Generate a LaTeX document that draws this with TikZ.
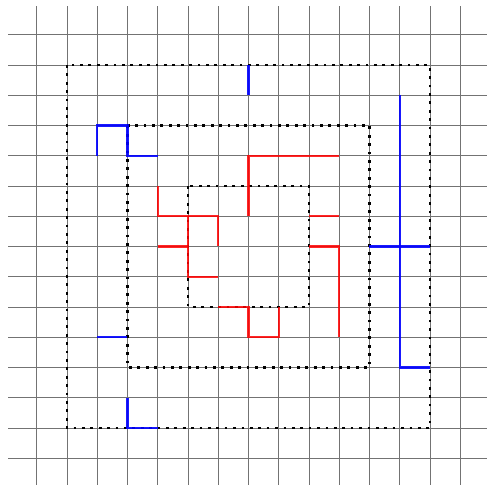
\documentclass[tikz,border=0pt]{standalone}
\begin{document}
\begin{tikzpicture}[x=1cm,y=-1cm,
  gridline/.style={draw=black!55,line width=0.55pt},
  dotsq/.style={draw=black,line width=2.6pt,dash pattern=on 2.6pt off 5.3pt},
  bluepath/.style={draw=blue,line width=1.9pt,opacity=0.9},
  redpath/.style={draw=red,line width=1.9pt,opacity=0.85}]
\useasboundingbox (-0.215,-0.149) rectangle (15.885,15.951);
% grid
\foreach \k in {1,...,15}{
  \draw[gridline] (\k,0.05) -- (\k,15.9);
  \draw[gridline] (0.05,\k) -- (15.9,\k);
}
% dotted squares
\draw[dotsq] (2,2) rectangle (14,14);
\draw[dotsq] (4,4) rectangle (12,12);
\draw[dotsq] (6,6) rectangle (10,10);
% blue paths
\coordinate (b1a) at (8,2); \coordinate (b1b) at (8,3);
\draw[bluepath] (b1a) -- (b1b);
\coordinate (b2a) at (3,5); \coordinate (b2b) at (5,5);
\draw[bluepath] (b2a) -- (3,4) -- (4,4) -- (4,5) -- (b2b);
\coordinate (b3a) at (13,3); \coordinate (b3b) at (14,12);
\draw[bluepath] (b3a) -- (13,12) -- (b3b);
\coordinate (b4a) at (12,8); \coordinate (b4b) at (14,8);
\draw[bluepath] (b4a) -- (b4b);
\coordinate (b5a) at (3,11); \coordinate (b5b) at (4,11);
\draw[bluepath] (b5a) -- (b5b);
\coordinate (b6a) at (4,13); \coordinate (b6b) at (5,14);
\draw[bluepath] (b6a) -- (4,14) -- (b6b);
% red paths
\coordinate (r1a) at (8,7); \coordinate (r1b) at (11,5);
\draw[redpath] (r1a) -- (8,5) -- (r1b);
\coordinate (r2a) at (5,6); \coordinate (r2b) at (7,8);
\draw[redpath] (r2a) -- (5,7) -- (7,7) -- (r2b);
\coordinate (r3a) at (6,7); \coordinate (r3b) at (7,9);
\draw[redpath] (r3a) -- (6,9) -- (r3b);
\coordinate (r4a) at (5,8); \coordinate (r4b) at (6,8);
\draw[redpath] (r4a) -- (r4b);
\coordinate (r5a) at (10,7); \coordinate (r5b) at (11,7);
\draw[redpath] (r5a) -- (r5b);
\coordinate (r6a) at (10,8); \coordinate (r6b) at (11,11);
\draw[redpath] (r6a) -- (11,8) -- (r6b);
\coordinate (r7a) at (7,10); \coordinate (r7b) at (9,10);
\draw[redpath] (r7a) -- (8,10) -- (8,11) -- (9,11) -- (r7b);
\end{tikzpicture}
\end{document}
